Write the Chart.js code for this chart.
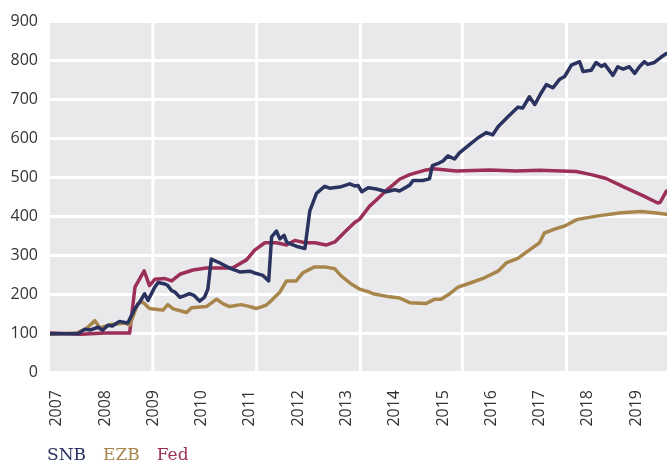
<!DOCTYPE html>
<html>
<head>
<meta charset="utf-8">
<script src="https://cdn.jsdelivr.net/npm/chart.js@4.4.1/dist/chart.umd.min.js"></script>
<style>
  body { margin: 0; background: #fff; }
  #wrap { position: relative; width: 667px; height: 465px; }
  #legend { position: absolute; left: 47px; top: 444px; font-family: "DejaVu Serif", serif; font-size: 17px; }
  #legend span { margin-right: 17px; }
</style>
</head>
<body>
<div id="wrap">
  <canvas id="bankChart" width="667" height="465"></canvas>
  <div id="legend"></div>
</div>
<script>
// Bilanzsummen, indexiert (2007 = 100)
const tickYears = [2007, 2008, 2009, 2010, 2011, 2012, 2013, 2014, 2015, 2016, 2017, 2018, 2019];
const gridYears = [2008.99, 2011.14, 2013.29, 2015.40, 2017.56]; // Kacheln im Hintergrund

const snbYears = [2006.88, 2007.44, 2007.58, 2007.70, 2007.86, 2007.95, 2008.06, 2008.15, 2008.30, 2008.47,
  2008.62, 2008.72, 2008.82, 2008.89, 2009.03, 2009.10, 2009.24, 2009.30, 2009.38, 2009.45, 2009.55, 2009.65,
  2009.75, 2009.85, 2009.96, 2010.06, 2010.13, 2010.20, 2010.38, 2010.58, 2010.79, 2011.00, 2011.08, 2011.27,
  2011.39, 2011.45, 2011.55, 2011.62, 2011.71, 2011.76, 2011.86, 2011.96, 2012.14, 2012.24, 2012.38, 2012.55,
  2012.65, 2012.86, 2013.07, 2013.17, 2013.24, 2013.32, 2013.45, 2013.62, 2013.83, 2014.00, 2014.10, 2014.31,
  2014.38, 2014.58, 2014.72, 2014.78, 2014.89, 2015.00, 2015.10, 2015.24, 2015.34, 2015.55, 2015.72, 2015.90,
  2016.03, 2016.14, 2016.34, 2016.55, 2016.65, 2016.79, 2016.90, 2017.04, 2017.14, 2017.28, 2017.41, 2017.52,
  2017.66, 2017.83, 2017.90, 2018.07, 2018.17, 2018.28, 2018.35, 2018.52, 2018.62, 2018.73, 2018.86, 2018.97,
  2019.07, 2019.17, 2019.24, 2019.38, 2019.52, 2019.63];
const snbValues = [98, 98, 110, 108, 115, 107, 120, 118, 130, 126,
  163, 180, 201, 184, 218, 230, 226, 222, 209, 205, 192, 196,
  201, 196, 182, 192, 213, 290, 280, 267, 257, 259, 255, 248,
  234, 347, 362, 342, 351, 334, 328, 323, 317, 413, 459, 477,
  472, 475, 483, 478, 479, 463, 473, 470, 463, 468, 465, 480,
  492, 492, 496, 530, 535, 542, 555, 547, 563, 584, 601, 615,
  609, 630, 655, 680, 678, 707, 687, 718, 738, 730, 751, 759,
  788, 797, 772, 775, 795, 785, 790, 762, 784, 778, 784, 767,
  784, 797, 790, 795, 809, 818];

const ezbYears = [2006.88, 2007.40, 2007.60, 2007.79, 2007.89, 2008.13, 2008.41, 2008.51, 2008.68, 2008.78,
  2008.92, 2009.13, 2009.20, 2009.30, 2009.41, 2009.69, 2009.79, 2010.10, 2010.31, 2010.45, 2010.58, 2010.82,
  2011.00, 2011.13, 2011.34, 2011.45, 2011.62, 2011.76, 2011.96, 2012.10, 2012.34, 2012.55, 2012.76, 2012.89,
  2013.10, 2013.27, 2013.48, 2013.55, 2013.89, 2014.10, 2014.31, 2014.65, 2014.83, 2014.96, 2015.14, 2015.31,
  2015.55, 2015.86, 2016.14, 2016.31, 2016.55, 2016.83, 2017.00, 2017.10, 2017.31, 2017.52, 2017.72, 2017.79,
  2018.21, 2018.69, 2019.10, 2019.38, 2019.63];
const ezbValues = [97, 100, 110, 132, 113, 122, 126, 120, 176, 180,
  163, 160, 159, 173, 162, 153, 165, 168, 187, 175, 168, 173,
  168, 163, 172, 184, 205, 234, 234, 255, 270, 270, 265, 247,
  226, 213, 205, 201, 193, 190, 178, 176, 187, 187, 201, 218,
  228, 242, 259, 280, 292, 317, 332, 357, 367, 375, 388, 392,
  401, 409, 412, 409, 405];

const fedYears = [2006.88, 2007.50, 2008.00, 2008.51, 2008.62, 2008.81, 2008.92, 2009.03, 2009.24, 2009.38,
  2009.55, 2009.82, 2010.10, 2010.38, 2010.64, 2010.93, 2011.10, 2011.31, 2011.55, 2011.76, 2011.93, 2012.14,
  2012.35, 2012.58, 2012.76, 2012.96, 2013.17, 2013.27, 2013.48, 2013.62, 2013.83, 2013.96, 2014.10, 2014.31,
  2014.65, 2014.80, 2015.28, 2015.97, 2016.52, 2017.00, 2017.76, 2018.07, 2018.38, 2018.73, 2019.14, 2019.45,
  2019.50, 2019.63];
const fedValues = [100, 97, 100, 100, 218, 260, 222, 238, 240, 234,
  251, 262, 267, 267, 267, 288, 313, 332, 332, 326, 338, 332,
  332, 326, 334, 359, 384, 392, 426, 442, 467, 480, 495, 507,
  519, 522, 516, 519, 516, 518, 515, 507, 497, 476, 453, 434,
  436, 465];

const seriesNames = ['SNB', 'EZB', 'Fed'];
const seriesColors = ['#2a3260', '#a8864b', '#9c2f57'];

function toPoints(years, values) {
  return years.map((x, i) => ({ x: x, y: values[i] }));
}

const panelBackground = {
  id: 'panelBackground',
  beforeDraw(chart) {
    const { ctx, chartArea: a, scales } = chart;
    ctx.save();
    ctx.fillStyle = '#e9e9eb';
    ctx.fillRect(a.left, a.top, a.right - a.left, a.bottom - a.top);
    ctx.strokeStyle = '#ffffff';
    ctx.lineWidth = 3;
    gridYears.forEach(v => {
      const px = scales.x.getPixelForValue(v);
      ctx.beginPath();
      ctx.moveTo(px, a.top);
      ctx.lineTo(px, a.bottom);
      ctx.stroke();
    });
    ctx.restore();
  }
};

const ctx = document.getElementById('bankChart').getContext('2d');
const bankChart = new Chart(ctx, {
  type: 'line',
  data: {
    datasets: [
      { label: seriesNames[0], data: toPoints(snbYears, snbValues), borderColor: seriesColors[0] },
      { label: seriesNames[1], data: toPoints(ezbYears, ezbValues), borderColor: seriesColors[1] },
      { label: seriesNames[2], data: toPoints(fedYears, fedValues), borderColor: seriesColors[2] }
    ]
  },
  options: {
    responsive: false,
    animation: false,
    layout: { padding: { top: 12, right: 0, left: 0, bottom: 0 } },
    elements: {
      line: { borderWidth: 3.5, tension: 0, borderJoinStyle: 'round', borderCapStyle: 'round' },
      point: { radius: 0 }
    },
    plugins: {
      legend: { display: false },
      tooltip: { enabled: false }
    },
    scales: {
      x: {
        type: 'linear',
        min: 2006.86,
        max: 2019.64,
        afterBuildTicks: s => { s.ticks = tickYears.map(v => ({ value: v })); },
        afterFit: s => { s.height = 93; },
        grid: { display: false },
        border: { display: false },
        ticks: {
          autoSkip: false,
          maxRotation: 90,
          minRotation: 90,
          padding: 10,
          color: '#333',
          font: { family: 'Open Sans', size: 16 },
          callback: v => String(v)
        }
      },
      y: {
        min: 0,
        max: 900,
        afterFit: s => { s.width = 50; },
        grid: { color: '#ffffff', lineWidth: 3, drawTicks: false },
        border: { display: false },
        ticks: {
          stepSize: 100,
          padding: 12,
          color: '#333',
          font: { family: 'Open Sans', size: 16 }
        }
      }
    }
  },
  plugins: [panelBackground]
});

document.getElementById('legend').innerHTML = bankChart.data.datasets
  .map(d => '<span style="color:' + d.borderColor + '">' + d.label + '</span>')
  .join('');
</script>
</body>
</html>
